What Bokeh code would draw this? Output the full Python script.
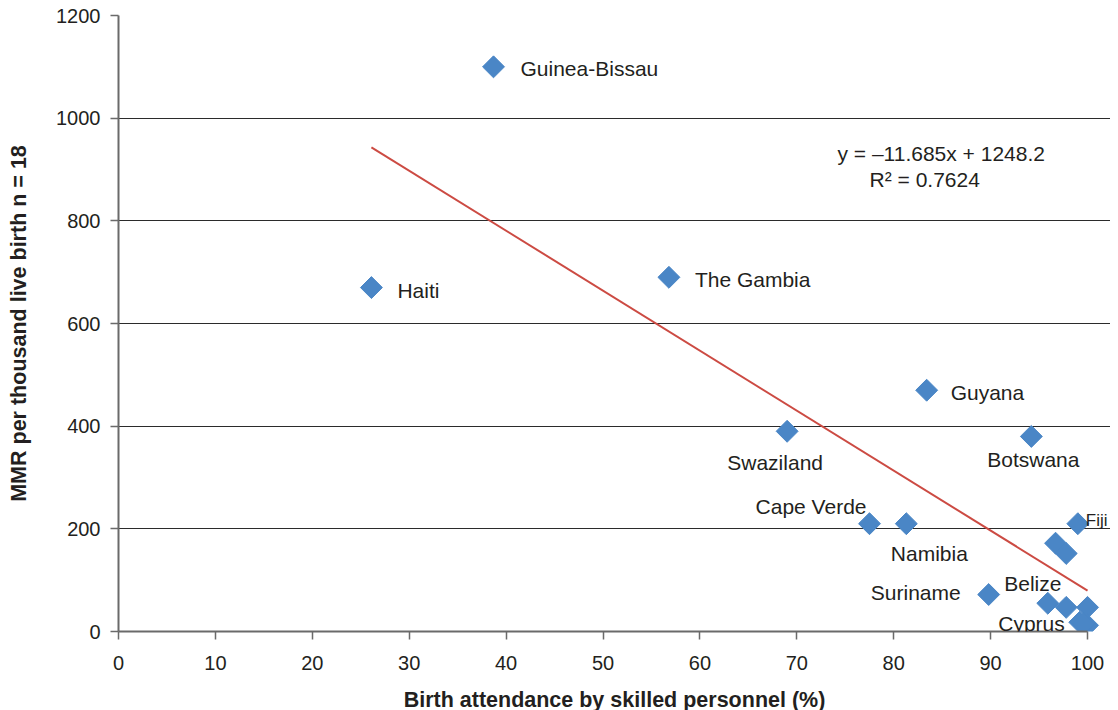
from bokeh.plotting import figure
from bokeh.models import ColumnDataSource, FixedTicker, Label
from bokeh.embed import file_html
from bokeh.resources import INLINE
import math

# ---- data ----
countries = ["Guinea-Bissau", "Haiti", "The Gambia", "Guyana", "Swaziland", "Botswana",
             "Cape Verde", "Namibia", "Fiji", "", "", "Suriname", "Belize", "", "",
             "Cyprus", "", ""]
attendance = [38.7, 26.1, 56.8, 83.4, 69.0, 94.2,
              77.5, 81.3, 99.0, 96.7, 97.8, 89.8, 95.9, 97.8, 100.0,
              99.2, 100.0, 99.6]
mmr = [1100, 670, 690, 470, 390, 380,
       210, 210, 210, 172, 152, 72, 55, 47, 47,
       18, 12, 15]
x_ticks = [0, 10, 20, 30, 40, 50, 60, 70, 80, 90, 100]
y_ticks = [0, 200, 400, 600, 800, 1000, 1200]
slope = -11.685
intercept = 1248.2
r_squared = 0.7624

# ---- label layout (screen offsets in px: right, down; alignment; font size) ----
label_style = {
    "Guinea-Bissau": (27, 2, "left", "21px"),
    "Haiti": (26, 3, "left", "21px"),
    "The Gambia": (26, 2, "left", "21px"),
    "Guyana": (24, 2, "left", "21px"),
    "Swaziland": (-12, 31, "center", "21px"),
    "Botswana": (2, 23, "center", "21px"),
    "Cape Verde": (-3, -17, "right", "21px"),
    "Namibia": (23, 30, "center", "21px"),
    "Fiji": (8, -3, "left", "17px"),
    "Suriname": (-28, -2, "right", "21px"),
    "Belize": (-15, -20, "center", "21px"),
    "Cyprus": (-15, 1, "right", "21px"),
}

FONT = "Liberation Sans"
TXT = "#231f20"

p = figure(width=1110, height=716, output_backend="svg", toolbar_location=None,
           x_range=(0, 102.37), y_range=(0, 1200),
           min_border_left=118, min_border_right=0, min_border_top=15, min_border_bottom=85)
p.outline_line_color = None
p.background_fill_color = "white"
p.border_fill_color = "white"

p.xgrid.grid_line_color = None
p.ygrid.grid_line_color = "#2b2b2b"
p.ygrid.grid_line_width = 1
p.ygrid.bounds = (0, 100)

for ax in (p.xaxis[0], p.yaxis[0]):
    ax.axis_line_color = "#6a6a6a"
    ax.axis_line_width = 2
    ax.major_tick_line_color = "#6a6a6a"
    ax.major_tick_line_width = 1.5
    ax.major_tick_out = 8
    ax.major_tick_in = 0
    ax.minor_tick_line_color = None
    ax.major_label_text_font = FONT
    ax.major_label_text_font_size = "20px"
    ax.major_label_text_color = TXT
    ax.axis_label_text_font = FONT
    ax.axis_label_text_font_style = "bold"
    ax.axis_label_text_font_size = "21.5px"
    ax.axis_label_text_color = TXT

p.xaxis.bounds = (0, 100)
p.xaxis.ticker = FixedTicker(ticks=x_ticks)
p.yaxis.ticker = FixedTicker(ticks=y_ticks)
p.xaxis.axis_label = "Birth attendance by skilled personnel (%)"
p.yaxis.axis_label = "MMR per thousand live birth n = 18"
p.xaxis.major_label_standoff = 16
p.yaxis.major_label_standoff = 10
p.xaxis.axis_label_standoff = 15
p.yaxis.axis_label_standoff = 22

# trend line
x0, x1 = min(attendance), max(attendance)
p.line([x0, x1], [slope * x0 + intercept, slope * x1 + intercept],
       line_color="#cc4b43", line_width=2)

# points
src = ColumnDataSource(dict(x=attendance, y=mmr))
p.scatter("x", "y", source=src, marker="square", size=15.5, angle=math.pi / 4,
          fill_color="#4a86c6", line_color="#4a86c6")

# labels (annotations, not clipped by the frame)
for name, xv, yv in zip(countries, attendance, mmr):
    if not name:
        continue
    dx, dy, align, fs = label_style[name]
    p.add_layout(Label(x=xv, y=yv, text=name, x_offset=dx, y_offset=-dy,
                       text_align=align, text_baseline="middle",
                       text_font=FONT, text_font_size=fs, text_color=TXT))

# equation
p.add_layout(Label(x=84.9, y=932, text=f"y = \u2013{abs(slope)}x + {intercept}",
                   text_align="center", text_baseline="middle",
                   text_font=FONT, text_font_size="21px", text_color=TXT))
p.add_layout(Label(x=83.2, y=881, text=f"R\u00b2 = {r_squared}",
                   text_align="center", text_baseline="middle",
                   text_font=FONT, text_font_size="21px", text_color=TXT))

open("out.html", "w").write(file_html(p, INLINE))
